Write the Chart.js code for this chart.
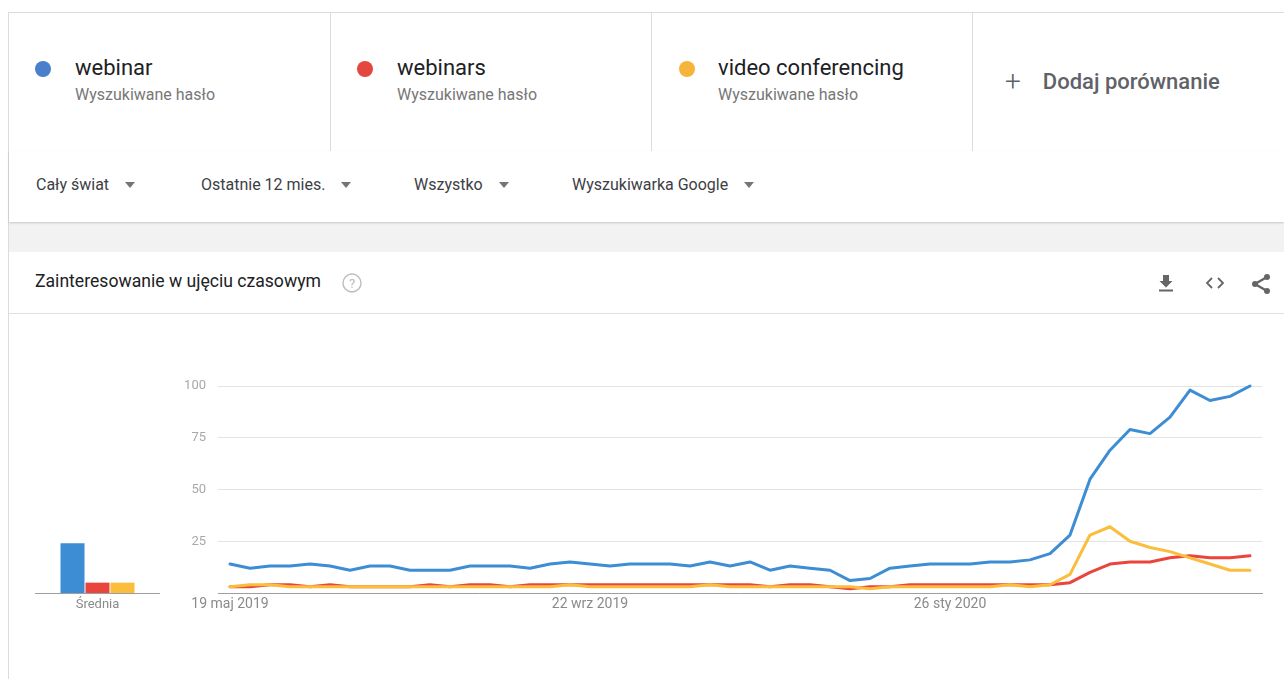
<!DOCTYPE html>
<html lang="pl">
<head>
<meta charset="utf-8">
<script src="https://cdn.jsdelivr.net/npm/chart.js@4.4.1/dist/chart.umd.min.js"></script>
<style>
  html, body { margin: 0; padding: 0; background: #fff; }
  body { width: 1284px; height: 679px; overflow: hidden; position: relative; font-family: Roboto, "Noto Sans", Arial, sans-serif; }
  .page { position: absolute; left: 8px; top: 12px; right: 0; bottom: 0; background: #f2f2f2; border-left: 1px solid #dcdcdc; }
  .terms { position: absolute; left: 0; top: 0; right: 0; height: 138px; background: #fff; border-top: 1px solid #dcdcdc; border-bottom: 1px solid #dcdcdc; }
  .term { position: absolute; top: 0; height: 138px; border-right: 1px solid #dcdcdc; box-sizing: border-box; }
  .dot { position: absolute; left: 26px; top: 48px; width: 16px; height: 16px; border-radius: 50%; }
  .name { position: absolute; left: 66px; top: 42px; font-size: 22px; color: #202124; white-space: nowrap; }
  .sub { position: absolute; left: 66px; top: 72px; font-size: 16px; color: #777; white-space: nowrap; }
  .add { position: absolute; left: 996px; top: 50px; font-size: 22px; color: #5f6368; font-weight: 500; white-space: nowrap; }
  .add .plus { font-weight: 300; font-size: 28px; position: relative; top: 2px; margin-right: 22px; }
  .filters { position: absolute; left: 0; top: 139px; right: 0; height: 71px; background: #fff; box-shadow: 0 1px 2px rgba(0,0,0,0.18); }
  .f { position: absolute; top: 24px; font-size: 16px; color: #3c4043; white-space: nowrap; }
  .tri { display: inline-block; width: 0; height: 0; border-left: 5px solid transparent; border-right: 5px solid transparent; border-top: 6px solid #757575; vertical-align: middle; margin-left: 16px; position: relative; top: -1px; }
  .card { position: absolute; left: 0; top: 240px; right: 0; bottom: 0; background: #fff; }
  .ctitle { position: absolute; left: 26px; top: 19px; font-size: 17.6px; color: #202124; white-space: nowrap; }
  .help { position: absolute; left: 333px; top: 21px; width: 20px; height: 20px; }
  .icons svg { position: absolute; top: 21px; }
  .sep { position: absolute; left: 0; right: 0; top: 61px; height: 1px; background: #e0e0e0; }
  canvas { position: absolute; }
</style>
</head>
<body>
<div class="page">
  <div class="terms">
    <div class="term" style="left:0;width:322px">
      <div class="dot" style="background:#4a7fc9"></div>
      <div class="name">webinar</div>
      <div class="sub">Wyszukiwane hasło</div>
    </div>
    <div class="term" style="left:322px;width:321px">
      <div class="dot" style="background:#e4473f;left:26px"></div>
      <div class="name">webinars</div>
      <div class="sub">Wyszukiwane hasło</div>
    </div>
    <div class="term" style="left:643px;width:321px">
      <div class="dot" style="background:#f5b43a;left:27px"></div>
      <div class="name">video conferencing</div>
      <div class="sub">Wyszukiwane hasło</div>
    </div>
    <div class="add"><span class="plus">+</span>Dodaj porównanie</div>
  </div>
  <div class="filters">
    <div class="f" style="left:27px">Cały świat<span class="tri"></span></div>
    <div class="f" style="left:192px">Ostatnie 12 mies.<span class="tri"></span></div>
    <div class="f" style="left:405px">Wszystko<span class="tri"></span></div>
    <div class="f" style="left:563px">Wyszukiwarka Google<span class="tri"></span></div>
  </div>
  <div class="card">
    <div class="ctitle">Zainteresowanie w ujęciu czasowym</div>
    <svg class="help" viewBox="0 0 20 20">
      <circle cx="10" cy="10" r="9" fill="none" stroke="#bdbdbd" stroke-width="1.4"/>
      <text x="10" y="14.5" text-anchor="middle" font-size="13" font-family="Roboto, sans-serif" fill="#bdbdbd">?</text>
    </svg>
    <div class="icons">
      <svg style="left:1147px" width="20" height="20" viewBox="0 0 20 20">
        <path d="M7 2h6v6h3.5L10 14.5 3.5 8H7z" fill="#666"/>
        <rect x="3" y="16.5" width="14" height="2" fill="#666"/>
      </svg>
      <svg style="left:1195px" width="22" height="20" viewBox="0 0 22 20">
        <path d="M8 5 L3 10 L8 15" fill="none" stroke="#666" stroke-width="1.8"/>
        <path d="M14 5 L19 10 L14 15" fill="none" stroke="#666" stroke-width="1.8"/>
      </svg>
      <svg style="left:1241px" width="22" height="22" viewBox="0 0 22 22">
        <path d="M17 4 L5 11 L17 18" fill="none" stroke="#666" stroke-width="2.4"/>
        <circle cx="17" cy="4" r="3" fill="#666"/>
        <circle cx="5" cy="11" r="3" fill="#666"/>
        <circle cx="17" cy="18" r="3" fill="#666"/>
      </svg>
    </div>
    <div class="sep"></div>
  </div>
</div>
<canvas id="avg" width="125" height="263" style="left:35px;top:360px;width:125px;height:263px"></canvas>
<canvas id="trend" width="1124" height="263" style="left:160px;top:360px;width:1124px;height:263px"></canvas>
<script>
// Weekly search interest, 19 May 2019 – 10 May 2020 (52 weeks)
const webinar = [14,12,13,13,14,13,11,13,13,11,11,11,13,13,
                 13,12,14,15,14,13,14,14,14,13,15,13,
                 15,11,13,12,11,6,7,12,13,14,14,14,15,15,
                 16,19,28,55,69,79,77,85,98,93,95,100];
const webinars = [3,3,4,4,3,4,3,3,3,3,4,3,4,4,
                  3,4,4,4,4,4,4,4,4,4,4,4,
                  4,3,4,4,3,2,3,3,4,4,4,4,4,4,
                  4,4,5,10,14,15,15,17,18,17,17,18];
const videoConferencing = [3,4,4,3,3,3,3,3,3,3,3,3,3,3,
                           3,3,3,4,3,3,3,3,3,3,4,3,
                           3,3,3,3,3,3,2,3,3,3,3,3,3,4,
                           3,4,9,28,32,25,22,20,17,14,11,11];

// Averages over the period
const averageLabel = ['Średnia'];
const averages = { webinar: [24], webinars: [5], videoConferencing: [5] };

// X-axis date labels at week indices
const tickWeeks = [0, 18, 36];
const tickLabels = ['19 maj 2019', '22 wrz 2019', '26 sty 2020'];
const yTicks = [0, 25, 50, 75, 100];

const COLORS = { blue: '#3d8dd4', red: '#e9453c', yellow: '#fbbd3c' };
const FONT = 'Roboto, "Noto Sans", sans-serif';

const toPoints = arr => arr.map((v, i) => ({ x: i, y: v }));

const lineSet = (label, data, color, order) => ({
  label, data: toPoints(data), borderColor: color, backgroundColor: color,
  borderWidth: 3, pointRadius: 0, tension: 0, order,
  borderJoinStyle: 'round', borderCapStyle: 'round', clip: 4
});

new Chart(document.getElementById('trend'), {
  type: 'line',
  data: {
    datasets: [
      lineSet('webinar', webinar, COLORS.blue, 2),
      lineSet('webinars', webinars, COLORS.red, 1),
      lineSet('video conferencing', videoConferencing, COLORS.yellow, 0)
    ]
  },
  options: {
    responsive: false, animation: false, devicePixelRatio: 1,
    layout: { padding: { top: 26, right: 22, left: 0, bottom: 0 } },
    plugins: { legend: { display: false }, tooltip: { enabled: false } },
    scales: {
      x: {
        type: 'linear', min: -0.6, max: 51.6,
        afterBuildTicks: s => { s.ticks = tickWeeks.map(v => ({ value: v })); },
        afterFit: s => { s.height = 30; },
        ticks: {
          autoSkip: false, maxRotation: 0, padding: 3,
          color: '#8a8a8a', font: { family: FONT, size: 14 },
          callback: v => tickLabels[tickWeeks.indexOf(v)]
        },
        grid: { display: false, drawTicks: false },
        border: { display: true, color: '#9e9e9e', width: 1 }
      },
      y: {
        min: 0, max: 100,
        afterBuildTicks: s => { s.ticks = yTicks.map(v => ({ value: v })); },
        afterFit: s => { s.width = 58; },
        ticks: {
          padding: 12, color: '#a8a8a8', font: { family: FONT, size: 13 },
          callback: v => (v === 0 ? '' : String(v))
        },
        grid: {
          drawTicks: false,
          color: c => (c.tick && c.tick.value === 0 ? 'rgba(0,0,0,0)' : '#e3e3e3')
        },
        border: { display: false }
      }
    }
  }
});

new Chart(document.getElementById('avg'), {
  type: 'bar',
  data: {
    labels: averageLabel,
    datasets: [
      { label: 'webinar', data: averages.webinar, backgroundColor: COLORS.blue },
      { label: 'webinars', data: averages.webinars, backgroundColor: COLORS.red },
      { label: 'video conferencing', data: averages.videoConferencing, backgroundColor: COLORS.yellow }
    ]
  },
  options: {
    responsive: false, animation: false, devicePixelRatio: 1,
    layout: { padding: { top: 26, right: 0, left: 0, bottom: 0 } },
    plugins: { legend: { display: false }, tooltip: { enabled: false } },
    datasets: { bar: { categoryPercentage: 0.6, barPercentage: 0.96 } },
    scales: {
      x: {
        afterFit: s => { s.height = 30; },
        ticks: { padding: 4, color: '#8a8a8a', font: { family: FONT, size: 13 } },
        grid: { display: false, drawTicks: false },
        border: { display: true, color: '#9e9e9e', width: 1 }
      },
      y: { display: false, min: 0, max: 100 }
    }
  }
});
</script>
</body>
</html>
